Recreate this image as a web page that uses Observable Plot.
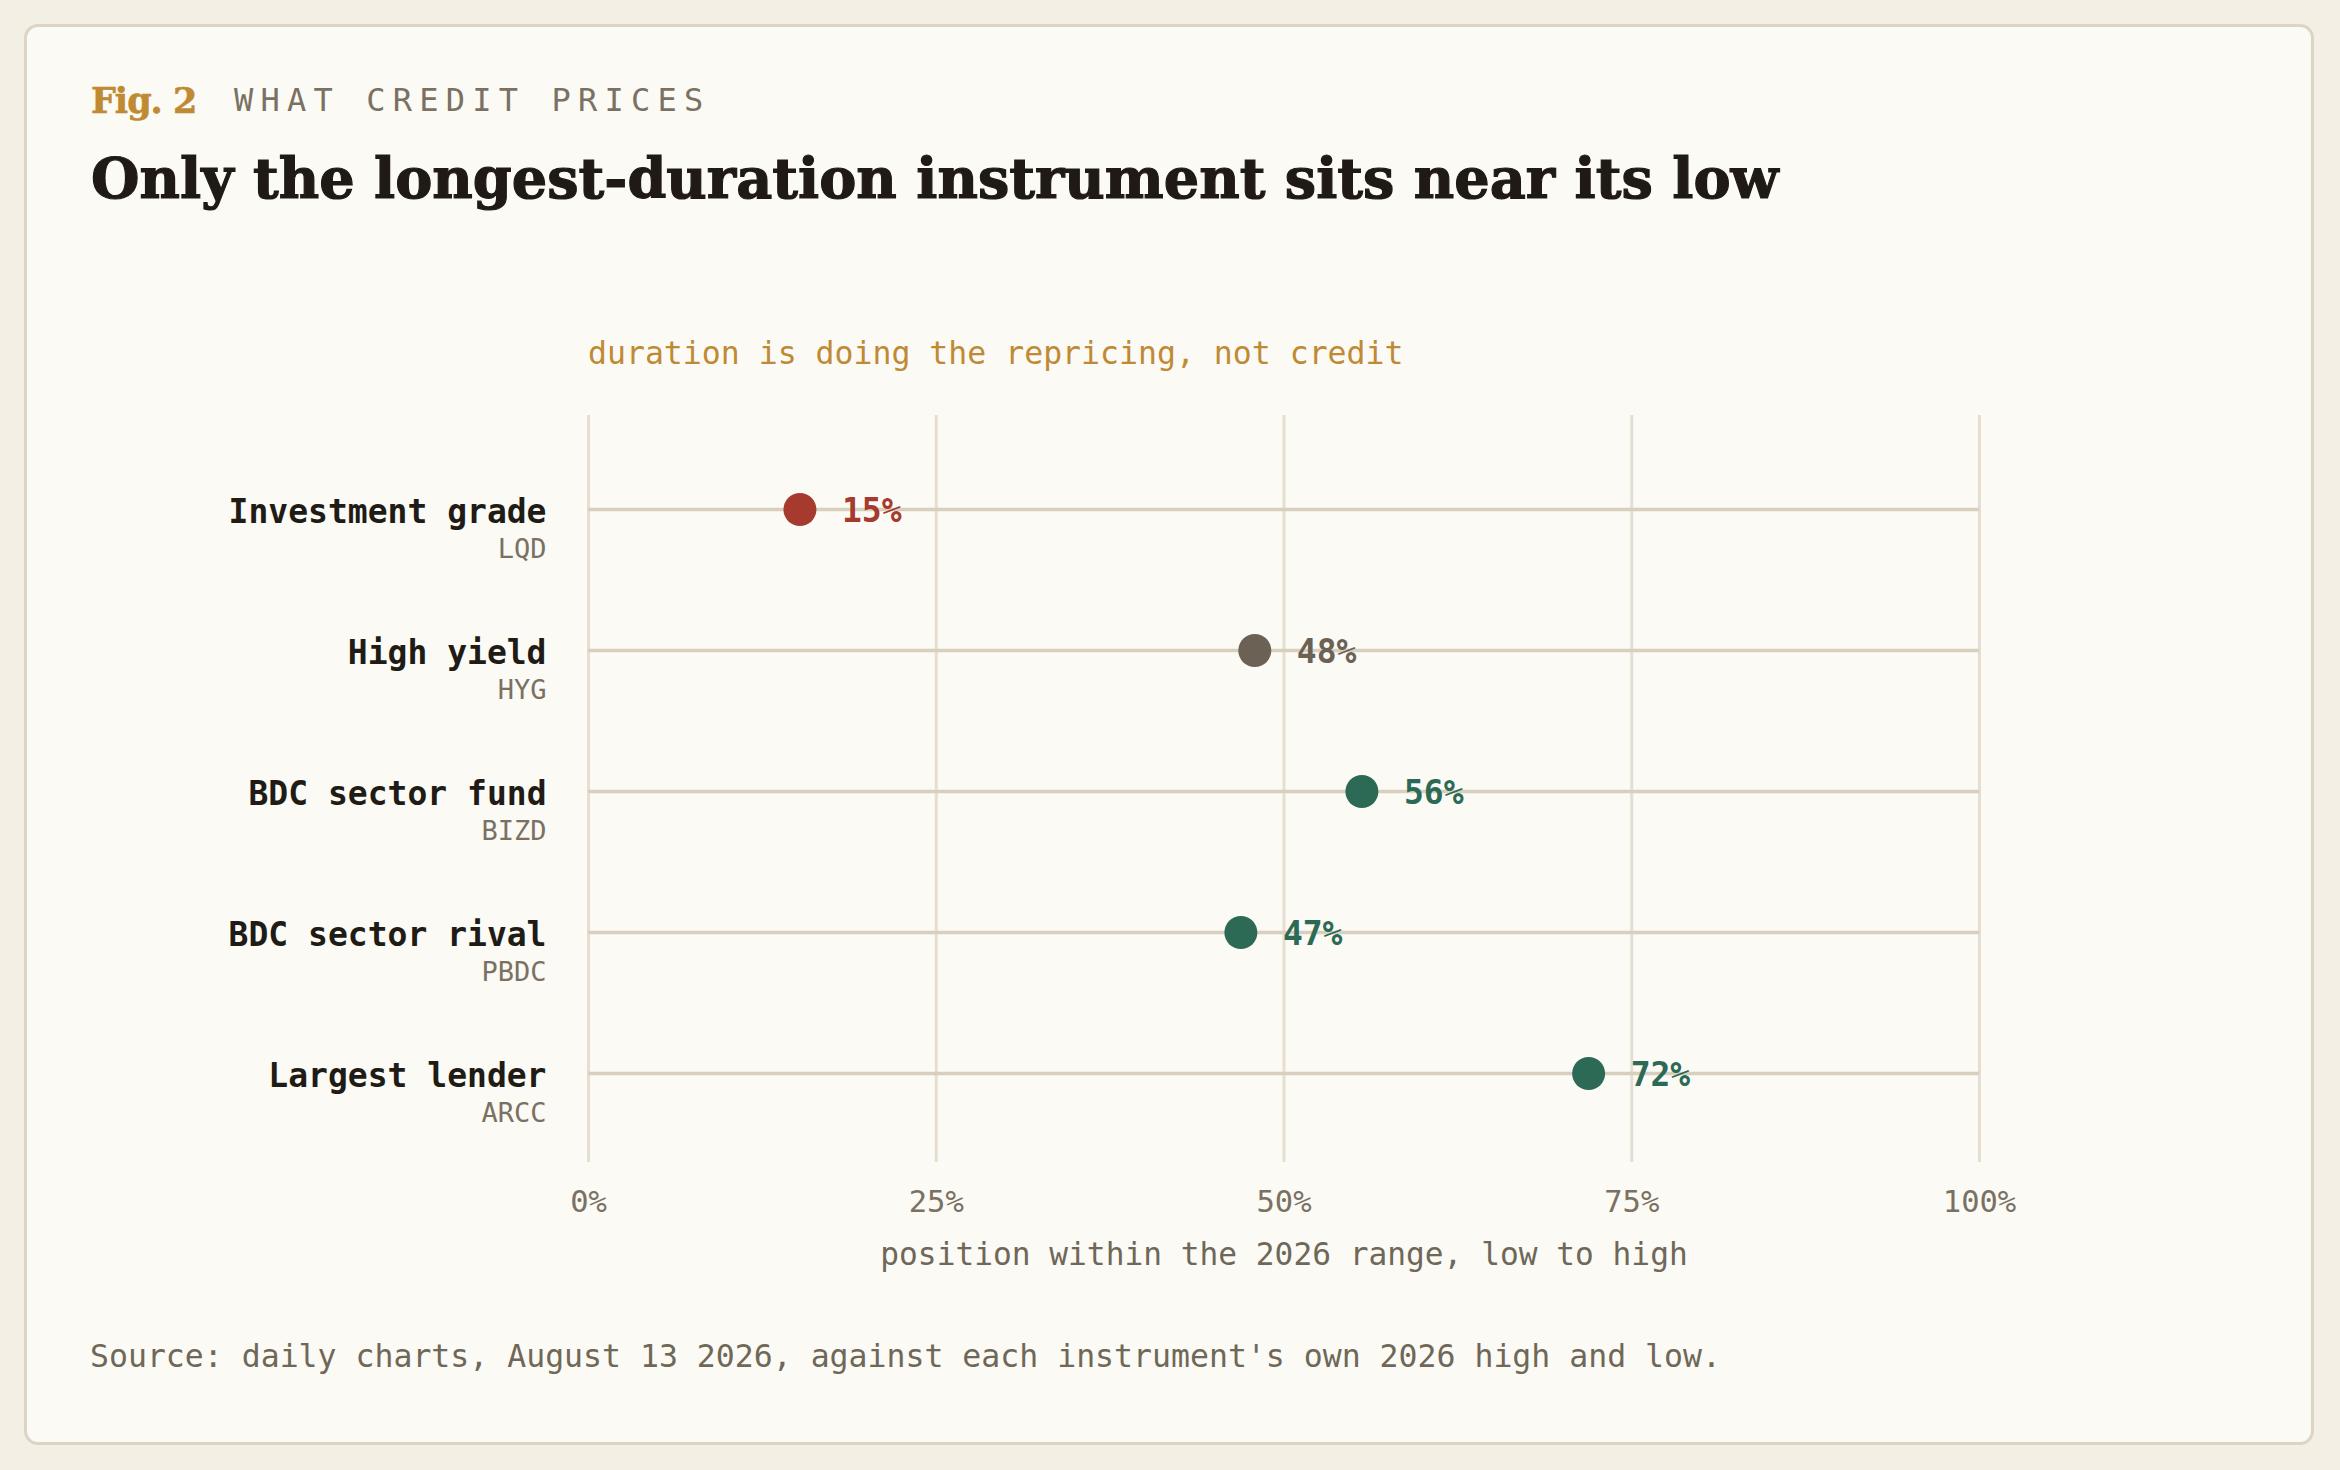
<!DOCTYPE html>
<html>
<head>
<meta charset="utf-8">
<script src="https://cdn.jsdelivr.net/npm/d3@7"></script>
<script src="https://cdn.jsdelivr.net/npm/@observablehq/plot@0.6"></script>
<style>
  html, body { margin: 0; padding: 0; }
  body { width: 2340px; height: 1470px; background: #f4efe5; position: relative; overflow: hidden; }
  #card { position: absolute; left: 24px; top: 24px; width: 2290px; height: 1421px; box-sizing: border-box;
          background: #fbfaf5; border: 3px solid #dcd4c4; border-radius: 14px; }
  .t { position: absolute; white-space: nowrap; line-height: 1; }
  #fig { font-family: "DejaVu Serif", serif; font-weight: bold; color: #c08a33; font-size: 35px; letter-spacing: -1px; -webkit-text-stroke: 0.6px #c08a33; }
  #kicker { font-family: "DejaVu Sans Mono", monospace; color: #7a7163; font-size: 32px; letter-spacing: 7.2px; }
  #title { font-family: "DejaVu Serif", serif; font-weight: bold; color: #1f1b14; -webkit-text-stroke: 1.2px #1f1b14; }
  #note { font-family: "DejaVu Sans Mono", monospace; color: #c08a35; font-size: 31.5px; }
  #source { font-family: "DejaVu Sans Mono", monospace; color: #6f6758; font-size: 31.5px; }
  #chart { position: absolute; left: 0; top: 380px; }
</style>
</head>
<body>
<div id="card"></div>
<div class="t" id="fig">Fig. 2</div>
<div class="t" id="kicker">WHAT CREDIT PRICES</div>
<div class="t" id="title">Only the longest-duration instrument sits near its low</div>
<div class="t" id="note">duration is doing the repricing, not credit</div>
<div id="chart"></div>
<div class="t" id="source">Source: daily charts, August 13 2026, against each instrument's own 2026 high and low.</div>
<script>
// ---- data ----
const names = ["Investment grade", "High yield", "BDC sector fund", "BDC sector rival", "Largest lender"];
const tickers = ["LQD", "HYG", "BIZD", "PBDC", "ARCC"];
const positions = [15.2, 47.9, 55.6, 46.9, 71.9];
const valueLabels = ["15%", "48%", "56%", "47%", "72%"];
const kinds = ["Investment grade", "High yield", "BDC", "BDC", "BDC"];
const kindDomain = ["Investment grade", "High yield", "BDC"];
const kindColors = ["#a63a2f", "#6b6255", "#2d6a55"];
const xTicks = [0, 25, 50, 75, 100];
const xLabel = "position within the 2026 range, low to high";

const data = names.map((name, i) => ({name, ticker: tickers[i], pos: positions[i], label: valueLabels[i], kind: kinds[i]}));

// ---- header placement (baseline-based) ----
function place(id, left, baseline, ascentRatio) {
  const el = document.getElementById(id);
  const fs = parseFloat(getComputedStyle(el).fontSize);
  el.style.left = left + "px";
  el.style.top = (baseline - ascentRatio * fs) + "px";
}
// fit the title width
(function () {
  const el = document.getElementById("title");
  const c = document.createElement("canvas").getContext("2d");
  c.font = 'bold 100px "DejaVu Serif"';
  const w = c.measureText(el.textContent).width;
  el.style.fontSize = (1688 / w * 100) + "px";
})();
const SERIF = 0.846, MONO = 0.846;
place("fig", 91, 113, SERIF);
place("kicker", 234, 111, MONO);
place("title", 91, 198, SERIF);
place("note", 588, 365, MONO);
place("source", 90, 1368, MONO);

// ---- chart ----
const mono = '"DejaVu Sans Mono", monospace';
const chart = Plot.plot({
  width: 2340,
  height: 920,
  marginLeft: 588,
  marginRight: 361,
  marginTop: 35,
  marginBottom: 138,
  style: {fontFamily: mono, fontSize: "30.5px", color: "#7a7163", background: "transparent", overflow: "visible"},
  x: {domain: [0, 100], label: null, axis: null},
  y: {type: "point", domain: names, padding: 0.636, align: 0.516, axis: null},
  color: {domain: kindDomain, range: kindColors},
  marks: [
    Plot.ruleX(xTicks, {stroke: "#e6dfd1", strokeWidth: 3}),
    Plot.ruleY(data, {y: "name", x1: 0, x2: 100, stroke: "#d8cfbe", strokeWidth: 3.5}),
    Plot.axisX(xTicks, {tickSize: 0, tickPadding: 28, tickFormat: d => `${d}%`, label: null,
      fontSize: 30.5, fill: "#7a7163"}),
    Plot.text([xLabel], {frameAnchor: "bottom", lineAnchor: "top", dy: 80, fontSize: 31.2, fill: "#6f6758"}),
    Plot.dot(data, {x: "pos", y: "name", r: 16.5, fill: "kind"}),
    Plot.text(data, {x: "pos", y: "name", text: "label", dx: 42, dy: 2, textAnchor: "start",
      fill: "kind", fontWeight: "bold", fontSize: 33}),
    Plot.text(data, {y: "name", frameAnchor: "left", text: "name", textAnchor: "end", dx: -42, dy: 3,
      fontWeight: "bold", fontSize: 33, fill: "#201c15"}),
    Plot.text(data, {y: "name", frameAnchor: "left", text: "ticker", textAnchor: "end", dx: -42, dy: 40,
      fontSize: 27, fill: "#7a7163"})
  ]
});
document.getElementById("chart").appendChild(chart);
</script>
</body>
</html>
